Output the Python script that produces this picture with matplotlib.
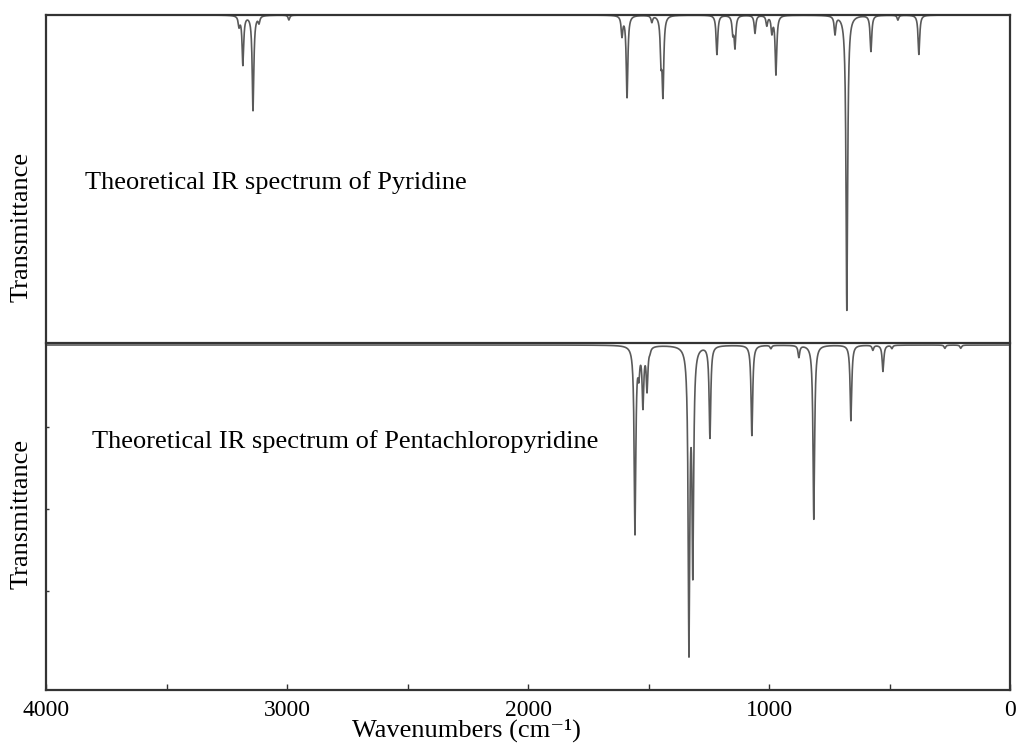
import numpy as np
import matplotlib
matplotlib.use("Agg")
import matplotlib.pyplot as plt

plt.rcParams['font.family'] = ['Liberation Serif', 'DejaVu Serif']
plt.rcParams['mathtext.fontset'] = 'stix'

# Peak list of pyridine: wavenumber (cm-1) and minimum transmittance (%)
pyr_wn = [3199, 3183, 3141, 3116, 2992, 1610, 1589, 1486, 1448, 1440, 1216,
          1150, 1141, 1058, 1009, 988, 971, 726, 677, 577, 465, 378]
pyr_T = [97, 85, 71, 98, 98.5, 94, 75, 98, 88, 77, 88,
         95, 90.5, 94.5, 97, 95, 82, 94.5, 10, 89, 98.5, 88]

# Peak list of pentachloropyridine
pcp_wn = [1556, 1540, 1523, 1506, 1494, 1332, 1316, 1245, 1071, 992, 876,
          814, 660, 569, 527, 490, 270, 204]
pcp_T = [43, 93, 82.3, 87, 99, 9, 34, 72, 72.5, 99, 96.4,
         47, 77, 98.5, 92, 99, 99, 99]

gamma = 4.0  # half width (cm-1) of the Lorentzian line shape
wn = np.arange(0.0, 4000.01, 0.25)


def spectrum(centers, tmins):
    absorb = np.zeros_like(wn)
    for c, t in zip(centers, tmins):
        absorb += (100.0 - t) * gamma ** 2 / ((wn - c) ** 2 + gamma ** 2)
    return np.clip(100.0 - absorb, -5, 100)


fig = plt.figure(figsize=(10.16, 7.49), dpi=100)
ax1 = fig.add_axes([46 / 1016, 1 - 343 / 749, 964 / 1016, 328 / 749])
ax2 = fig.add_axes([46 / 1016, 1 - 690 / 749, 964 / 1016, 345 / 749])

line_col = '#5a5a5a'
spine_col = '#333333'

ax1.plot(wn, spectrum(pyr_wn, pyr_T), color=line_col, lw=1.2, clip_on=False)
ax1.set_xlim(4000, 0)
ax1.set_ylim(0, 100)
ax1.set_xticks([])
ax1.set_yticks([])
for s in ax1.spines.values():
    s.set_color(spine_col)
    s.set_linewidth(1.6)
ax1.set_ylabel('Transmittance', fontsize=19)
ax1.yaxis.set_label_coords(-0.0135, 0.355)
ax1.text(0.04, 0.49, 'Theoretical IR spectrum of Pyridine', transform=ax1.transAxes,
         fontsize=19, ha='left', va='center')

ax2.plot(wn, spectrum(pcp_wn, pcp_T), color=line_col, lw=1.2, clip_on=False)
ax2.set_xlim(4000, 0)
ax2.set_ylim(-5, 100)
ax2.spines['top'].set_visible(False)
for s in ['left', 'right', 'bottom']:
    ax2.spines[s].set_color(spine_col)
    ax2.spines[s].set_linewidth(1.6)
ax2.set_xticks([4000, 3000, 2000, 1000, 0])
ax2.set_xticks([3500, 2500, 1500, 500], minor=True)
ax2.tick_params(axis='x', which='both', direction='in', length=4, width=1,
                color=spine_col, labelsize=17, pad=7)
ax2.set_yticks([25, 50, 75])
ax2.set_yticklabels([])
ax2.tick_params(axis='y', direction='in', length=2, width=1, color=spine_col)
ax2.set_ylabel('Transmittance', fontsize=19)
ax2.yaxis.set_label_coords(-0.0135, 0.51)
ax2.set_xlabel('Wavenumbers (cm\u207b\u00b9)', fontsize=19)
ax2.xaxis.set_label_coords(0.436, -0.083)
ax2.text(0.048, 0.72, 'Theoretical IR spectrum of Pentachloropyridine',
         transform=ax2.transAxes, fontsize=19, ha='left', va='center')

fig.savefig('out.png', dpi=100)
